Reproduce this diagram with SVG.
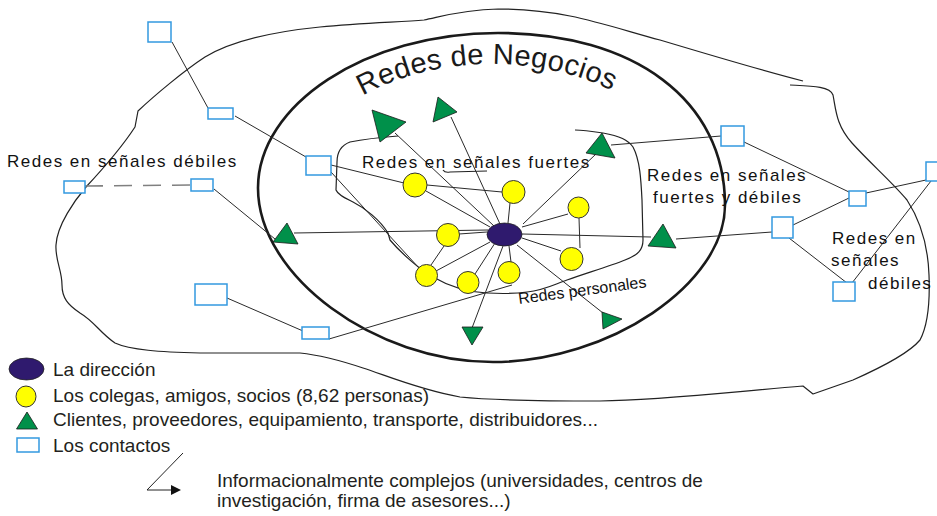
<svg xmlns="http://www.w3.org/2000/svg" width="937" height="516" viewBox="0 0 937 516">
<defs>
<style>
.ln{stroke:#2a2a2a;stroke-width:1;fill:none}
.blob{stroke:#222;stroke-width:1.2;fill:none;stroke-linejoin:round}
.box{fill:#fff;stroke:#3399e0;stroke-width:1.5}
.tri{fill:#00904a;stroke:#1a1a1a;stroke-width:0.8;stroke-linejoin:round}
.yc{fill:#ffff00;stroke:#333;stroke-width:1}
.dir{fill:#2f1a6e;stroke:#222;stroke-width:0.8}
.lbl{font-family:"Liberation Sans",Arial,sans-serif;font-size:17px;letter-spacing:1.5px;fill:#111}
.leg{font-family:"Liberation Sans",Arial,sans-serif;font-size:19px;fill:#231f20}
</style>
<path id="arcNeg" d="M292,198 A200,134 0 0 1 692,198"/>
</defs>
<rect width="937" height="516" fill="#fff"/>

<g id="regions">
<path class="blob" d="M790,85 C810,86 830,86 833,95 C836,110 836,125 852,143 C870,163 893,183 907,200 C920,220 928,245 929,275 C930,300 928,325 920,340 C910,352 880,368 853,380 L813,394 L803,386 C720,393 660,400 600,401 C540,401 490,400 460,397 C420,390 385,375 363,368 C345,362 320,355 300,353 L200,353 C160,352 130,350 115,343 C100,333 95,322 80,313 C68,305 62,298 62,285 C62,270 55,260 56,245 C57,225 75,200 86,187 C100,172 120,150 135,127 L138,111 C155,95 185,70 205,57 C225,45 260,33 320,27 C360,23 400,22 424,20 C440,17 460,10 498,9 C525,9 550,12 570,16 C600,22 630,32 660,40 C710,55 760,70 803,81"/>
<path d="M258,188 C258,105 365,33 498,33 C634,33 725,100 725,205 C725,284 609,362 493,362 C375,362 258,276 258,188 Z" fill="none" stroke="#1a1a1a" stroke-width="2.6"/>
<path class="blob" d="M398,136 C385,137 365,139 350,142 C342,145 337,152 337,162 L336,190 C338,195 345,198 353,202 C365,208 380,220 388,233 L390,240 C400,252 420,270 433,277 C445,284 465,292 487,293 C505,294 520,293 527,292 C545,290 555,284 567,280 C590,272 610,266 625,260 C638,255 643,250 643,240 L642,200 C641,180 640,160 633,147 C628,140 620,136 603,133 C590,131 580,130 575,130"/>
<path class="blob" d="M443,170 Q445,173 450,172 L487,171"/>
</g>

<g id="connectors">
<path class="ln" d="M172,42 L208,108"/>
<path class="ln" d="M235,116 L306,157"/>
<path class="ln" d="M331,165 L404,183"/>
<path class="ln" d="M331,172 L419,268"/>
<path d="M85,186 L191,185" stroke="#808080" stroke-width="1.6" stroke-dasharray="18 11" fill="none"/>
<path class="ln" d="M214,189 L275,239"/>
<path class="ln" d="M227,298 L303,331"/>
<path class="ln" d="M329,339 L512,285"/>
<path class="ln" d="M494,226 L395,133"/>
<path class="ln" d="M500,224 L451,117"/>
<path class="ln" d="M523,224 L597,153"/>
<path class="ln" d="M488,230 L294,233"/>
<path class="ln" d="M522,234 L651,237"/>
<path class="ln" d="M676,239 L772,232"/>
<path class="ln" d="M503,246 L472,328"/>
<path class="ln" d="M517,245 L603,313"/>
<path class="ln" d="M490,227 L426,191"/>
<path class="ln" d="M508,223 L510,203"/>
<path class="ln" d="M522,227 L568,214"/>
<path class="ln" d="M487,232 L459,234"/>
<path class="ln" d="M522,238 L561,251"/>
<path class="ln" d="M509,246 L511,262"/>
<path class="ln" d="M495,243 L475,274"/>
<path class="ln" d="M490,242 L436,271"/>
<path class="ln" d="M427,185 L502,192"/>
<path class="ln" d="M579,218 L580,248"/>
<path class="ln" d="M444,246 L431,265"/>
<path class="ln" d="M611,145 L721,136"/>
<path class="ln" d="M744,142 L849,192"/>
<path class="ln" d="M866,193 L926,180"/>
<path class="ln" d="M793,225 L849,198"/>
<path class="ln" d="M789,238 L847,283"/>
<path class="ln" d="M852,283 L931,181"/>
</g>

<g id="direccion"><ellipse class="dir" cx="504.5" cy="234.5" rx="17.5" ry="11.5"/></g>

<g id="c1"><circle class="yc" cx="415" cy="185" r="12"/></g>
<g id="c2"><circle class="yc" cx="513.5" cy="192" r="11.5"/></g>
<g id="c3"><circle class="yc" cx="578.5" cy="207.5" r="10.5"/></g>
<g id="c4"><circle class="yc" cx="448" cy="235" r="11.5"/></g>
<g id="c5"><circle class="yc" cx="571.5" cy="259" r="11.5"/></g>
<g id="c6"><circle class="yc" cx="509" cy="272.5" r="11"/></g>
<g id="c7"><circle class="yc" cx="468" cy="282.5" r="11"/></g>
<g id="c8"><circle class="yc" cx="426.5" cy="275.5" r="11"/></g>

<g id="t1"><polygon class="tri" points="372,110 406,122 380,142"/></g>
<g id="t2"><polygon class="tri" points="438,97 457,112 433,122"/></g>
<g id="t3"><polygon class="tri" points="602,133 615,158 586,153"/></g>
<g id="t4"><polygon class="tri" points="287,223 298,244 273,242"/></g>
<g id="t5"><polygon class="tri" points="663,224 676,248 648,246"/></g>
<g id="t6"><polygon class="tri" points="462,327 483,327 472,345"/></g>
<g id="t7"><polygon class="tri" points="602,312 622,319 603,329"/></g>

<g id="b1"><rect class="box" x="148" y="22" width="23" height="20"/></g>
<g id="b2"><rect class="box" x="208" y="108" width="25" height="11"/></g>
<g id="b3"><rect class="box" x="306" y="156" width="25" height="19"/></g>
<g id="b4"><rect class="box" x="64" y="181" width="21" height="12"/></g>
<g id="b5"><rect class="box" x="191" y="179" width="22" height="12"/></g>
<g id="b6"><rect class="box" x="195" y="284" width="32" height="21"/></g>
<g id="b7"><rect class="box" x="302" y="327" width="27" height="12"/></g>
<g id="b8"><rect class="box" x="721" y="126" width="23" height="20"/></g>
<g id="b9"><rect class="box" x="849" y="191" width="17" height="15"/></g>
<g id="b10"><rect class="box" x="772" y="217" width="21" height="21"/></g>
<g id="b11"><rect class="box" x="926" y="162" width="22" height="19"/></g>
<g id="b12"><rect class="box" x="833" y="282" width="22" height="19"/></g>

<g id="labels">
<text font-family="Liberation Sans, Arial, sans-serif" font-size="29" letter-spacing="0.3" fill="#1a1a1a"><textPath href="#arcNeg" startOffset="49%" text-anchor="middle">Redes de Negocios</textPath></text>
<text class="lbl" x="7" y="167">Redes en señales débiles</text>
<text class="lbl" x="362" y="168">Redes en señales fuertes</text>
<text class="lbl" x="647" y="181">Redes en señales</text>
<text class="lbl" x="653" y="203">fuertes y débiles</text>
<text class="lbl" x="832" y="244">Redes en</text>
<text class="lbl" x="831" y="266">señales</text>
<text class="lbl" x="868" y="289">débiles</text>
<text font-family="Liberation Sans, Arial, sans-serif" font-size="16" fill="#111" transform="translate(519,304) rotate(-7.5)">Redes personales</text>
</g>

<g id="legend">
<ellipse class="dir" cx="26.5" cy="369" rx="17.5" ry="11"/>
<ellipse class="yc" cx="26" cy="396.5" rx="10" ry="10.5"/>
<polygon class="tri" points="16.5,429 37.5,429 27,412"/>
<rect class="box" x="17" y="438" width="22" height="14"/>
<text class="leg" x="53" y="376">La dirección</text>
<text class="leg" x="53" y="402">Los colegas, amigos, socios (8,62 personas)</text>
<text class="leg" x="53" y="426">Clientes, proveedores, equipamiento, transporte, distribuidores...</text>
<text class="leg" x="53" y="452">Los contactos</text>
<path d="M183,453 L147,490 L172,490" fill="none" stroke="#222" stroke-width="1"/>
<polygon points="171,485 181,490 171,495" fill="#111"/>
<text class="leg" x="217" y="487">Informacionalmente complejos (universidades, centros de</text>
<text class="leg" x="217" y="507">investigación, firma de asesores...)</text>
</g>
</svg>
